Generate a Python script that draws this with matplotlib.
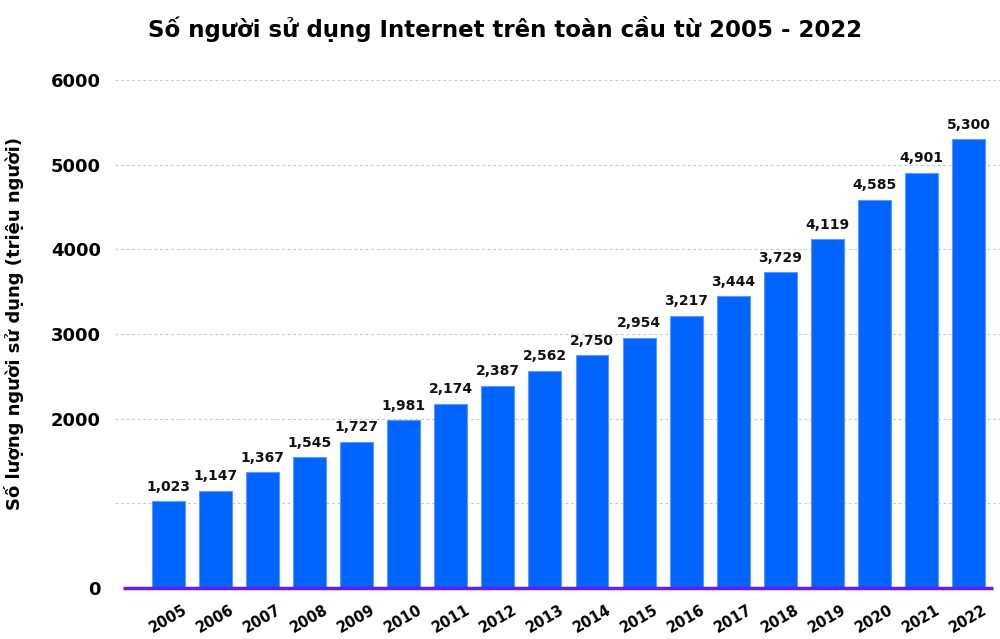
import matplotlib.pyplot as plt
import numpy as np

years = ['2005', '2006', '2007', '2008', '2009', '2010', '2011', '2012', '2013',
         '2014', '2015', '2016', '2017', '2018', '2019', '2020', '2021', '2022']
users = [1023, 1147, 1367, 1545, 1727, 1981, 2174, 2387, 2562,
         2750, 2954, 3217, 3444, 3729, 4119, 4585, 4901, 5300]
ytick_values = [0, 1000, 2000, 3000, 4000, 5000, 6000]
ytick_labels = ['0', '', '2000', '3000', '4000', '5000', '6000']

TITLE = 'Số người sử dụng Internet trên toàn cầu từ 2005 - 2022'
YLABEL = 'Số lượng người sử dụng (triệu người)'

BAR_COLOR = '#0064ff'
BASE_COLOR = '#6a1bf0'

plt.rcParams['font.family'] = ['DejaVu Sans']
plt.rcParams['font.weight'] = 'bold'

fig = plt.figure(figsize=(10, 6.39), dpi=100)
ax = fig.add_axes([0.115, 0.0798, 0.885, 0.795])

x = np.arange(len(years))
ax.bar(x, users, width=0.7, color=BAR_COLOR, edgecolor='#5a9bff', linewidth=0.8, zorder=3)

for xi, v in zip(x, users):
    ax.text(xi, v + 90, '{:,}'.format(v), ha='center', va='bottom',
            fontsize=10, fontweight='bold', color='#111111', zorder=4)

ax.set_xlim(-1.137, 17.67)
ax.set_ylim(0, 6000)
ax.set_yticks(ytick_values)
ax.set_yticklabels(ytick_labels, fontsize=13, fontweight='bold')
ax.set_xticks(x)
ax.set_xticklabels(years, rotation=30, fontsize=10.5, fontweight='bold', ha='center')
ax.tick_params(axis='both', length=0)
ax.tick_params(axis='y', pad=10)
ax.tick_params(axis='x', pad=10)

for yv in ytick_values[1:]:
    ax.axhline(yv, color='#c8c8c8', linestyle=(0, (2.5, 2.5)), linewidth=0.8, zorder=1)
ax.hlines(0, -0.97, 17.52, color=BASE_COLOR, linewidth=2.5, zorder=5, clip_on=False)

for s in ax.spines.values():
    s.set_visible(False)

ax.set_ylabel(YLABEL, fontsize=13, fontweight='bold')
ax.yaxis.set_label_coords(-0.103, 0.52)

fig.suptitle(TITLE, fontsize=16.5, fontweight='bold', x=0.505, y=0.975)

fig.savefig('out.png', dpi=100, facecolor='white')
